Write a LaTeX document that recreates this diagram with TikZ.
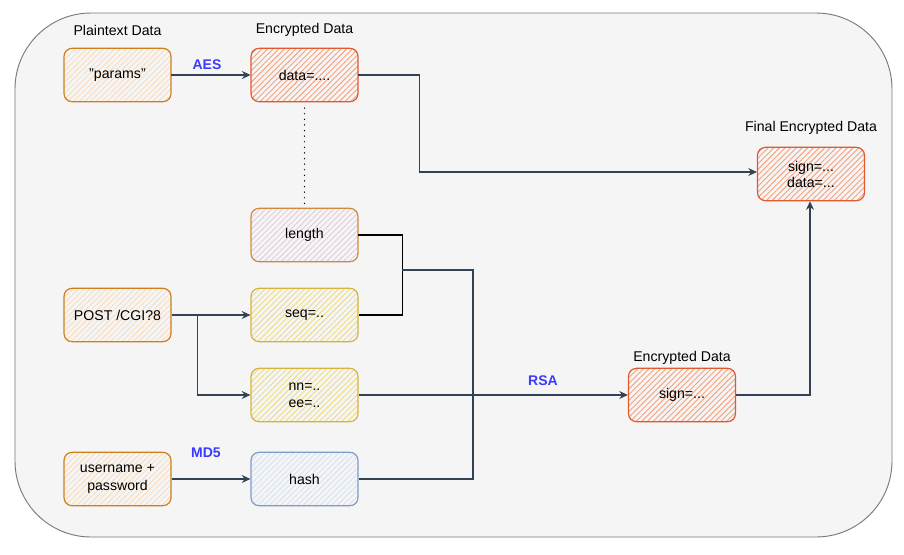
\documentclass[tikz,border=0pt]{standalone}
\usepackage{fontspec}
\setmainfont{Liberation Sans}
\usetikzlibrary{patterns.meta,arrows.meta,calc}
\definecolor{bgc}{HTML}{F5F5F5}
\definecolor{framec}{HTML}{7A7A7A}
\definecolor{linkc}{HTML}{314354}
\definecolor{lblue}{HTML}{3B3BFF}
\definecolor{peachS}{HTML}{D07F1B}
\definecolor{peachH}{HTML}{FBD7B0}
\definecolor{redS}{HTML}{E0592F}
\definecolor{redH}{HTML}{F7A27C}
\definecolor{pinkS}{HTML}{D08A3A}
\definecolor{pinkH}{HTML}{E3C8DA}
\definecolor{yelS}{HTML}{D4B441}
\definecolor{yelH}{HTML}{EFDA7A}
\definecolor{bluS}{HTML}{7C9CC9}
\definecolor{bluH}{HTML}{D3E0F3}
\tikzset{
  box/.style={rectangle, rounded corners=6pt, minimum width=80.25pt, minimum height=40pt,
    line width=0.9pt, align=center, font=\fontsize{10.6}{13}\selectfont, inner sep=1pt},
  peachbox/.style={box, draw=peachS, pattern={Lines[angle=45,distance=3pt,line width=0.5pt]}, pattern color=peachH},
  redbox/.style={box, draw=redS, pattern={Lines[angle=45,distance=3pt,line width=0.7pt]}, pattern color=redH},
  pinkbox/.style={box, draw=pinkS, pattern={Lines[angle=45,distance=3pt,line width=0.6pt]}, pattern color=pinkH},
  yelbox/.style={box, draw=yelS, pattern={Lines[angle=45,distance=3pt,line width=0.6pt]}, pattern color=yelH},
  blubox/.style={box, draw=bluS, pattern={Lines[angle=45,distance=3pt,line width=0.6pt]}, pattern color=bluH},
  ttl/.style={font=\fontsize{10.6}{12}\selectfont, inner sep=0pt},
  alg/.style={font=\fontsize{10.5}{12}\selectfont\bfseries, text=lblue, inner sep=0pt},
  link/.style={draw=linkc, line width=0.9pt},
  arr/.style={link, -{Stealth[length=6.5pt,width=6pt,inset=2.2pt]}},
  blk/.style={draw=black, line width=0.9pt},
  dotl/.style={draw=black, line width=1.1pt, line cap=round, dash pattern=on 0pt off 4.2pt}
}
\begin{document}
\begin{tikzpicture}[x=0.75pt,y=-0.75pt]
\useasboundingbox (0,0) rectangle (904,554);
\fill[white] (0,0) rectangle (904,554);
\draw[fill=bgc, draw=framec, line width=0.7pt, rounded corners=57pt] (15,13) rectangle (892,537);

% titles
\node[ttl] (t1) at (117.5,30) {Plaintext Data};
\node[ttl] (t2) at (304.5,30) {Encrypted Data};
\node[ttl] (t3) at (811,128) {Final Encrypted Data};
\node[ttl] (t4) at (682,358) {Encrypted Data};

% boxes
\node[peachbox] (params) at (117.5,75) {"params"};
\node[redbox] (data) at (304.5,75) {data=....};
\node[pinkbox] (len) at (304.5,235) {length};
\node[peachbox] (post) at (117.5,315) {POST /CGI?8};
\node[yelbox] (seq) at (304.5,315) {seq=..};
\node[yelbox] (nn) at (304.5,395) {nn=..\\ee=..};
\node[peachbox] (user) at (117.5,479) {username +\\password};
\node[blubox] (hash) at (304.5,479) {hash};
\node[redbox] (sign) at (682,395) {sign=...};
\node[redbox, font=\fontsize{10.6}{12}\selectfont] (final) at (811,174) {sign=...\\data=...};

% algorithm labels
\node[alg] (aes) at (207,65) {AES};
\node[alg] (rsa) at (543,381) {RSA};
\node[alg] (md5) at (206,453) {MD5};

% connectors
\draw[arr] (params.east) -- (data.west);
\draw[arr] (data.east) -- ++(61,0) |- ($(final.west)+(0,-2)$);
\draw[dotl] ($(data.south)+(0,6)$) -- ($(len.north)+(0,-2)$);
\draw[blk] (len.east) -- ++(44,0) |- (seq.east);
\coordinate (j) at (402,270);
\draw[link] (j) -- (473,270) |- (hash.east);
\draw[arr] (nn.east) -- (sign.west);
\draw[arr] (sign.east) -| ($(final.south)+(-1,0)$);
\draw[arr] (post.east) -- (seq.west);
\draw[arr] ($(post.east)+(26,0)$) |- (nn.west);
\draw[arr] (user.east) -- (hash.west);
\end{tikzpicture}
\end{document}
